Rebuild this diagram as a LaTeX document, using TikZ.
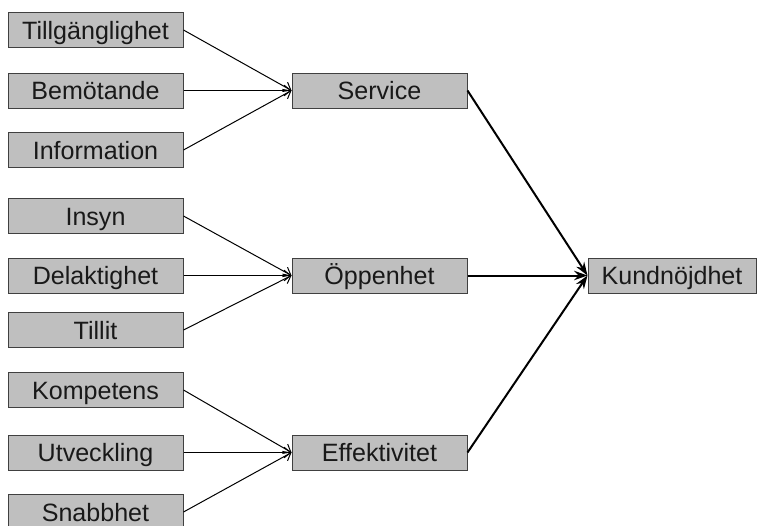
\documentclass[tikz,border=0pt]{standalone}
\usepackage{fontspec}
\setmainfont{Liberation Sans}
\usetikzlibrary{arrows.meta}
\tikzset{
  faktor/.style={draw=black!75, fill=black!25, line width=0.75pt,
    minimum width=131.25pt, minimum height=26.25pt, inner sep=0pt,
    text height=16pt, text depth=2.2pt,
    text=black!90, font=\fontsize{18.8}{22}\selectfont},
  tunn/.style={line width=0.75pt, -{Straight Barb[length=5pt,width=8pt]}},
  tjock/.style={line width=1.5pt, -{Stealth[length=10pt,width=7pt]}}
}
\begin{document}
\begin{tikzpicture}[x=0.75pt, y=-0.75pt]
      \useasboundingbox (0,0) rectangle (757,525);
      \node[faktor] (till) at (95.5,30)    {Tillgänglighet}; % first group
      \node[faktor] (bem)  at (95.5,90.5)  {Bemötande};
      \node[faktor] (inf)  at (95.5,150)   {Information};
      %
      \node[faktor] (ins)  at (95.5,216)   {Insyn};          % second group
      \node[faktor] (del)  at (95.5,275.5) {Delaktighet};
      \node[faktor] (tlt)  at (95.5,330)   {Tillit};
      %
      \node[faktor] (kom)  at (95.5,390)   {Kompetens};      % third group
      \node[faktor] (utv)  at (95.5,452.5) {Utveckling};
      \node[faktor] (snb)  at (95.5,512)   {Snabbhet};
      %
      \node[faktor] (ser)  at (379.5,90.5)  {Service};       % middle column
      \node[faktor] (opp)  at (379.5,275.5) {Öppenhet};
      \node[faktor] (eff)  at (379.5,452.5) {Effektivitet};
      %
      \node[faktor, minimum width=126pt] (kund) at (672,275.5) {Kundnöjdhet};
      %
      \draw[tunn] (till.east) -- (ser.west);               % into Service
      \draw[tunn] (bem.east)  -- (ser.west);
      \draw[tunn] (inf.east)  -- (ser.west);
      %
      \draw[tunn] (ins.east)  -- (opp.west);               % into Öppenhet
      \draw[tunn] (del.east)  -- (opp.west);
      \draw[tunn] (tlt.east)  -- (opp.west);
      %
      \draw[tunn] (kom.east)  -- (eff.west);               % into Effektivitet
      \draw[tunn] (utv.east)  -- (eff.west);
      \draw[tunn] (snb.east)  -- (eff.west);
      %%
      \draw[tjock] (ser.east) -- (kund.west);
      \draw[tjock] (opp.east) -- (kund.west);
      \draw[tjock] (eff.east) -- (kund.west);
      %
    \end{tikzpicture}
\end{document}
